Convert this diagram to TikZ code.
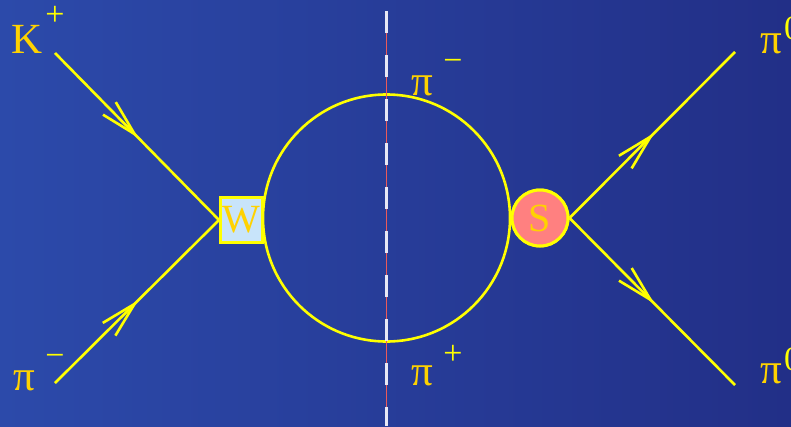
\documentclass[tikz,border=0pt]{standalone}
\usepackage{fontspec}
\setmainfont{Liberation Serif}
\usetikzlibrary{calc}
\definecolor{bgl}{RGB}{44,74,170}
\definecolor{bgr}{RGB}{34,47,135}
\definecolor{ln}{RGB}{255,255,0}
\definecolor{gold}{RGB}{255,210,0}
\definecolor{wfill}{RGB}{200,228,250}
\definecolor{sfill}{RGB}{255,128,128}
\definecolor{cutred}{RGB}{235,90,90}
\definecolor{cutwhite}{RGB}{232,232,245}
\tikzset{
  prop/.style={draw=ln, line width=2.6pt},
  chev/.style={draw=ln, line width=2.6pt},
  big/.style={text=gold, font=\fontsize{43}{43}\selectfont, inner sep=0pt, anchor=base},
  charge/.style={text=ln, font=\fontsize{34}{34}\selectfont, inner sep=0pt},
  vtx/.style={text=gold, font=\fontsize{40}{40}\selectfont, inner sep=0pt, draw=ln, line width=3pt},
  loopst/.style={circle, draw=ln, line width=2.6pt, minimum size=247pt, inner sep=0pt},
}
\begin{document}
\begin{tikzpicture}[x=1pt,y=-1pt]
\clip (0,0) rectangle (791,426);
\shade[left color=bgl,right color=bgr] (0,0) rectangle (791,426);
\useasboundingbox (0,0) rectangle (791,426);

\coordinate (kin) at (55,53);
\coordinate (piin) at (55,383);
\coordinate (out1) at (735,52);
\coordinate (out2) at (735,385);

\node[loopst] (loop) at (386.5,218) {};
\node[vtx, rectangle, fill=wfill, minimum width=42pt, minimum height=45pt] (w) at (241.5,220) {W};
\node[vtx, circle, fill=sfill, minimum size=56pt] (s) at (540,218) {S};

% external legs (drawn, then vertices redrawn on top)
\draw[prop] (kin) -- (w.west);
\draw[prop] (piin) -- (w.west);
\draw[prop] (s.east) -- (out1);
\draw[prop] (s.east) -- (out2);

\coordinate (a1) at ($(kin)!0.485!(w.west)$);
\coordinate (a2) at ($(piin)!0.485!(w.west)$);
\coordinate (a3) at ($(s.east)!0.49!(out1)$);
\coordinate (a4) at ($(s.east)!0.49!(out2)$);
\draw[chev] ($(a1)!37pt!14:(kin)$) -- (a1) -- ($(a1)!37pt!-14:(kin)$);
\draw[chev] ($(a2)!37pt!14:(piin)$) -- (a2) -- ($(a2)!37pt!-14:(piin)$);
\draw[chev] ($(a3)!37pt!14:(s.east)$) -- (a3) -- ($(a3)!37pt!-14:(s.east)$);
\draw[chev] ($(a4)!37pt!14:(s.east)$) -- (a4) -- ($(a4)!37pt!-14:(s.east)$);

\node[vtx, rectangle, fill=wfill, minimum width=42pt, minimum height=45pt] (w2) at (w) {W};
\node[vtx, circle, fill=sfill, minimum size=56pt] (s2) at (s) {S};

% cut line
\coordinate (cuttop) at (386,11);
\coordinate (cutbot) at (386,426);
\draw[cutred, line width=1pt] (cuttop) -- (cutbot);
\draw[cutwhite, line width=3pt, dash pattern=on 22pt off 22pt] (cuttop) -- (cutbot);

% labels
\node[big] (klab) at (27.5,53) {K};
\node[charge] (kch) at (55,16) {+};
\node[big] (pimlab) at (24,390) {π};
\node[charge] (pimch) at (55,360) {−};
\node[big] (pitop) at (422.5,95) {π};
\node[charge] (pitopch) at (453,65) {−};
\node[big] (pibot) at (422.5,385) {π};
\node[charge] (pibotch) at (453,355) {+};
\node[big] (pz1) at (771,53) {π};
\node[charge, anchor=north west] (pz1ch) at (784,17) {0};
\node[big] (pz2) at (771,383) {π};
\node[charge, anchor=north west] (pz2ch) at (784,348) {0};
\end{tikzpicture}
\end{document}
